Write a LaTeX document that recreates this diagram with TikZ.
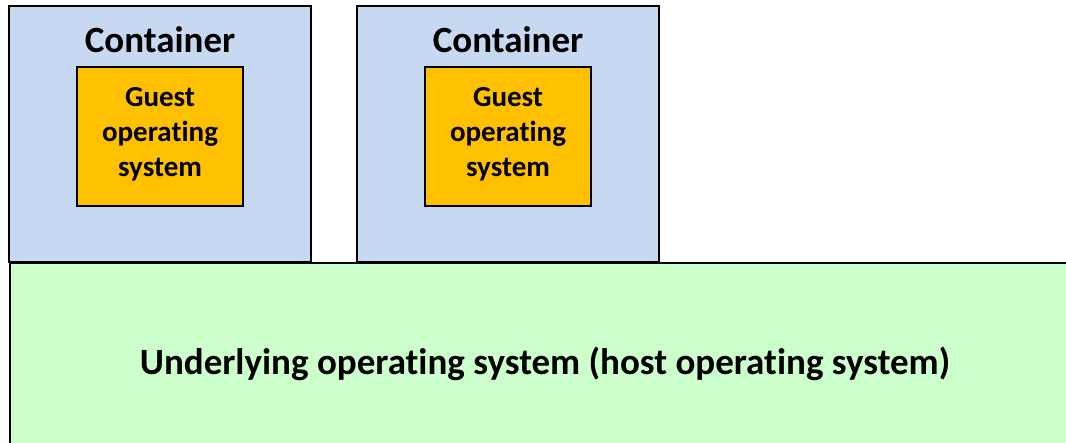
\documentclass[tikz,border=0pt]{standalone}
\usepackage{fontspec}
\setmainfont[Ligatures=NoCommon]{Carlito}
\definecolor{contblue}{HTML}{C6D9F0}
\definecolor{guestorange}{HTML}{FFC000}
\definecolor{hostgreen}{HTML}{CCFFCC}
\begin{document}
\begin{tikzpicture}[x=1pt,y=-1pt,
  container/.style={draw=black,line width=2pt,fill=contblue,minimum width=302pt,minimum height=256pt,inner sep=0pt},
  guest/.style={draw=black,line width=1.6pt,fill=guestorange,minimum width=166pt,minimum height=139pt,inner sep=0pt},
  gtext/.style={align=center,font=\fontsize{29}{35}\selectfont\bfseries,inner sep=0pt},
  ctitle/.style={font=\fontsize{37}{44}\selectfont\bfseries,inner sep=0pt},
  host/.style={draw=black,line width=2pt,fill=hostgreen,anchor=north west,minimum width=1080pt,minimum height=200pt,inner sep=0pt}]
\useasboundingbox (0,0) rectangle (1066,443);
\clip (0,0) rectangle (1066,443);
\node[host] (host) at (9,262) {};
\node[font=\fontsize{37}{44}\selectfont\bfseries,inner sep=0pt] (hostlabel) at (545,364) {Underlying operating system (host operating system)};
\node[container] (c1) at (160,134) {};
\node[container] (c2) at (508,134) {};
\node[ctitle] (t1) at (160,40) {Container};
\node[ctitle] (t2) at (508,40) {Container};
\node[guest] (g1) at (160,136.5) {};
\node[guest] (g2) at (508,136.5) {};
\node[gtext] (gt1) at (160,134) {Guest\\operating\\system};
\node[gtext] (gt2) at (508,134) {Guest\\operating\\system};
\end{tikzpicture}
\end{document}
